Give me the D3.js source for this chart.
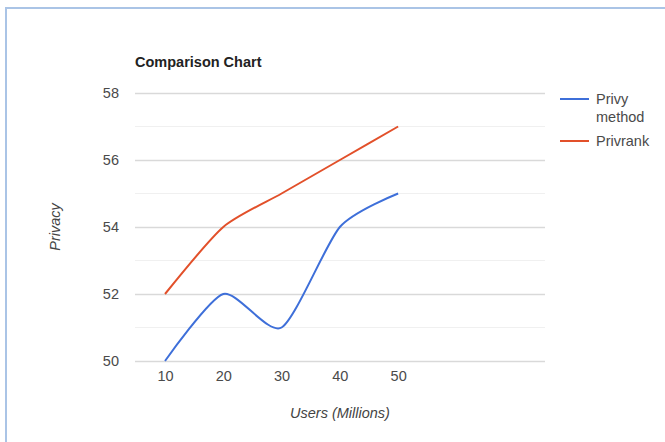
<!DOCTYPE html>
<html>
<head>
<meta charset="utf-8">
<script src="https://cdn.jsdelivr.net/npm/d3@7"></script>
<style>
  body { margin: 0; background: #fff; }
  svg { display: block; font-family: Arial, "Liberation Sans", sans-serif; }
</style>
</head>
<body>
<div id="chart"></div>
<script>
// data
const users = [10, 20, 30, 40, 50];
const privyMethod = [50, 52, 51, 54, 55];
const privrank = [52, 54, 55, 56, 57];
const yTicks = [50, 52, 54, 56, 58];
const seriesNames = ["Privy method", "Privrank"];
const colors = ["#3e6fd9", "#e2502a"];

const w = 665, h = 442;

const svg = d3.select("#chart").append("svg")
  .attr("width", w)
  .attr("height", h);

// light blue frame (left + top)
svg.append("rect").attr("x", 5).attr("y", 7).attr("width", 2).attr("height", h - 7).attr("fill", "#aac4e6");
svg.append("rect").attr("x", 5).attr("y", 7).attr("width", w - 5).attr("height", 2).attr("fill", "#aac4e6");

// scales
const x = d3.scaleLinear().domain([4.85, 75.2]).range([135, 545]);
const y = d3.scaleLinear().domain([50, 58]).range([361, 93]);

// minor grid (odd values)
svg.append("g").selectAll("line")
  .data(d3.range(51, 58, 2))
  .enter().append("line")
  .attr("x1", 135).attr("x2", 545)
  .attr("y1", d => y(d)).attr("y2", d => y(d))
  .attr("stroke", "#f0f0f0").attr("stroke-width", 1);

// y axis with gridlines
const yAxis = d3.axisLeft(y).tickValues(yTicks).tickSize(-410).tickPadding(16);
const gy = svg.append("g").attr("transform", "translate(135,0)").call(yAxis);
gy.select(".domain").remove();
gy.selectAll(".tick line").attr("stroke", "#d9d9d9").attr("stroke-width", 1.5);
gy.selectAll(".tick text").attr("fill", "#4a4a4a").attr("font-size", 14.5);

// x axis (labels only)
const xAxis = d3.axisBottom(x).tickValues(users).tickSize(0).tickPadding(10);
const gx = svg.append("g").attr("transform", "translate(0,361)").call(xAxis);
gx.select(".domain").remove();
gx.selectAll(".tick text").attr("fill", "#4a4a4a").attr("font-size", 14.5);

// lines
const line = d3.line()
  .x((d, i) => x(users[i]))
  .y(d => y(d))
  .curve(d3.curveCardinal.tension(0.3));

[privyMethod, privrank].forEach((s, k) => {
  svg.append("path")
    .datum(s)
    .attr("d", line)
    .attr("fill", "none")
    .attr("stroke", colors[k])
    .attr("stroke-width", 2);
});

// title
svg.append("text")
  .attr("x", 135).attr("y", 67)
  .attr("font-size", 14.5).attr("font-weight", "bold")
  .attr("fill", "#222")
  .text("Comparison Chart");

// axis titles
svg.append("text")
  .attr("transform", "translate(60,227) rotate(-90)")
  .attr("text-anchor", "middle")
  .attr("font-size", 14.5).attr("font-style", "italic")
  .attr("fill", "#444")
  .text("Privacy");

svg.append("text")
  .attr("x", 340).attr("y", 418)
  .attr("text-anchor", "middle")
  .attr("font-size", 14.5).attr("font-style", "italic")
  .attr("fill", "#444")
  .text("Users (Millions)");

// legend
const legend = svg.append("g").attr("id", "legend");
const legendRows = [[["Privy", "method"], 99], [["Privrank"], 141]];
legendRows.forEach((r, k) => {
  legend.append("line")
    .attr("x1", 560).attr("x2", 589)
    .attr("y1", r[1]).attr("y2", r[1])
    .attr("stroke", colors[k]).attr("stroke-width", 2);
  r[0].forEach((t, j) => {
    legend.append("text")
      .attr("x", 596).attr("y", r[1] + 5 + j * 18)
      .attr("font-size", 14.5).attr("fill", "#4a4a4a")
      .text(t);
  });
});
</script>
</body>
</html>
